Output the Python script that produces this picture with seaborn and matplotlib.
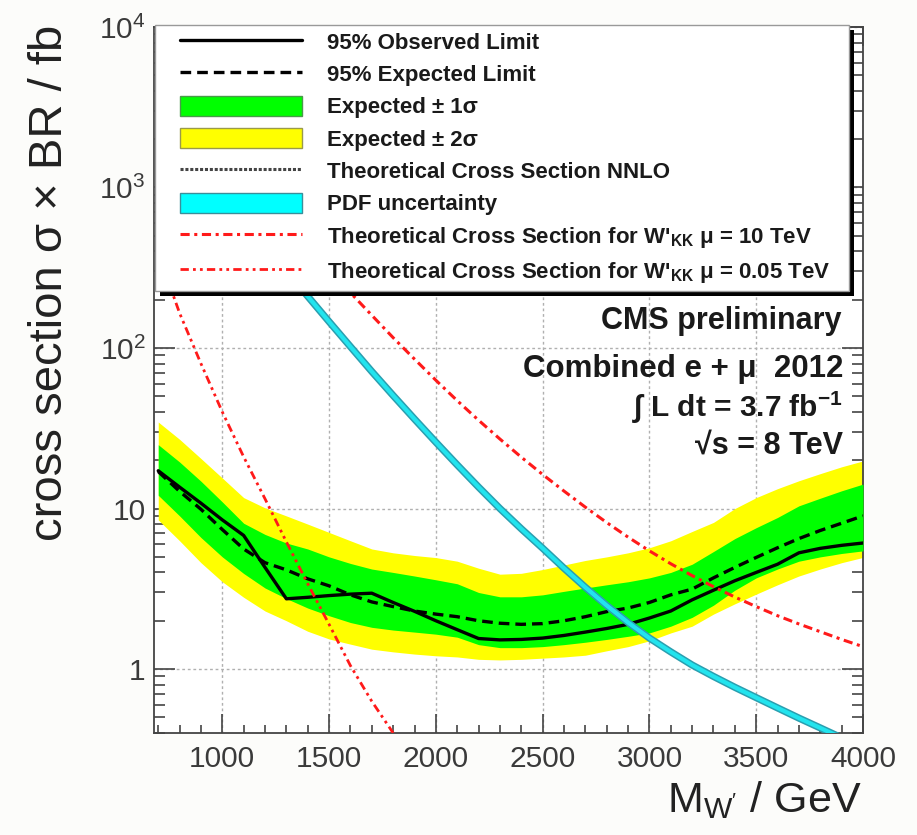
import matplotlib
matplotlib.use("Agg")
import matplotlib.pyplot as plt
import matplotlib.patheffects as pe
import seaborn as sns
from matplotlib.lines import Line2D
from matplotlib.patches import Patch, Rectangle
from matplotlib.ticker import MultipleLocator, LogLocator, NullFormatter

# W' mass points (GeV) for the limits
MASS = [700, 800, 900, 1000, 1100, 1200, 1300, 1400, 1500, 1600, 1700, 1800,
        1900, 2000, 2100, 2200, 2300, 2400, 2500, 2600, 2700, 2800, 2900, 3000,
        3100, 3200, 3300, 3400, 3500, 3600, 3700, 3800, 3900, 4000]

OBSERVED = [17.2, 13.6, 10.8, 8.5, 6.8, 4.3, 2.74, 2.8, 2.87, 2.93, 2.97, 2.6,
            2.29, 2.0, 1.76, 1.55, 1.52, 1.53, 1.56, 1.62, 1.70, 1.79, 1.90, 2.08,
            2.3, 2.7, 3.1, 3.55, 4.0, 4.5, 5.3, 5.65, 5.9, 6.1]
EXPECTED = [17.0, 12.8, 9.9, 7.4, 5.6, 4.6, 4.15, 3.65, 3.3, 2.9, 2.62, 2.45,
            2.3, 2.2, 2.12, 2.0, 1.93, 1.9, 1.92, 2.0, 2.12, 2.28, 2.4, 2.6,
            2.9, 3.15, 3.7, 4.3, 4.96, 5.7, 6.5, 7.3, 8.1, 9.0]
EXP_1S_UP = [25, 19.5, 14.8, 11, 8.1, 6.9, 6.1, 5.6, 5.0, 4.55, 4.2, 4.0,
             3.8, 3.6, 3.4, 3.0, 2.82, 2.82, 2.9, 3.05, 3.2, 3.35, 3.5, 3.7,
             4.0, 4.5, 5.4, 6.5, 7.6, 8.8, 10.4, 11.6, 12.9, 14.2]
EXP_1S_DN = [12.1, 9.0, 6.6, 5.0, 3.94, 3.2, 2.75, 2.4, 2.15, 1.95, 1.82, 1.75,
             1.7, 1.65, 1.58, 1.42, 1.36, 1.36, 1.38, 1.42, 1.47, 1.53, 1.6, 1.68,
             1.85, 2.1, 2.5, 3.1, 3.7, 4.2, 4.7, 5.0, 5.25, 5.45]
EXP_2S_UP = [34.6, 27, 20.5, 15.5, 11.7, 10.1, 9.0, 8.0, 7.1, 6.3, 5.6, 5.3,
             5.1, 4.95, 4.7, 4.25, 3.9, 3.95, 4.17, 4.45, 4.75, 5.0, 5.3, 5.7,
             6.3, 7.2, 8.2, 10.0, 11.7, 13.3, 14.9, 16.5, 18.2, 19.8]
EXP_2S_DN = [8.5, 6.3, 4.6, 3.5, 2.8, 2.3, 2.0, 1.72, 1.54, 1.43, 1.33, 1.28,
             1.24, 1.21, 1.19, 1.15, 1.14, 1.15, 1.17, 1.19, 1.22, 1.3, 1.38, 1.5,
             1.68, 1.85, 2.2, 2.55, 2.93, 3.35, 3.8, 4.2, 4.6, 4.96]

# theory curves
MASS_NNLO = [1200, 1300, 1400, 1500, 1600, 1700, 1800, 1900, 2000, 2100, 2200,
             2300, 2400, 2500, 2600, 2700, 2800, 2900, 3000, 3100, 3200, 3300,
             3400, 3500, 3600, 3700, 3800, 3900, 4000]
XSEC_NNLO = [446, 305, 210, 146, 102, 71.4, 50.6, 36.1, 25.9, 18.7, 13.6,
             10.0, 7.48, 5.66, 4.25, 3.23, 2.49, 1.95, 1.56, 1.28, 1.06, 0.90,
             0.77, 0.664, 0.573, 0.495, 0.43, 0.373, 0.324]
MASS_KK10 = [1500, 1600, 1700, 1800, 1900, 2000, 2100, 2200, 2300, 2400, 2500,
             2600, 2700, 2800, 2900, 3000, 3100, 3200, 3300, 3400, 3500, 3600,
             3700, 3800, 3900, 4000]
XSEC_KK10 = [306, 221, 160, 116, 85.3, 63.0, 47.0, 35.5, 27.1, 20.9, 16.3,
             12.85, 10.2, 8.18, 6.64, 5.45, 4.53, 3.82, 3.26, 2.81, 2.45, 2.15,
             1.91, 1.71, 1.53, 1.38]
MASS_KK005 = [700, 800, 900, 1000, 1100, 1200, 1300, 1400, 1500, 1600, 1700, 1800]
XSEC_KK005 = [390, 165, 80, 40, 21, 11.5, 6.2, 3.4, 1.9, 1.05, 0.63, 0.40]

Y_TICKS = [1, 10, 100, 1000, 10000]
Y_TICKLABELS = ["1", "10", r"$\mathregular{10^{2}}$", r"$\mathregular{10^{3}}$", r"$\mathregular{10^{4}}$"]

sns.set_theme(style="ticks")
plt.rcParams["font.family"] = ["Liberation Sans", "DejaVu Sans"]
plt.rcParams["mathtext.fontset"] = "custom"
plt.rcParams["mathtext.rm"] = "Liberation Sans"
plt.rcParams["mathtext.it"] = "Liberation Sans:italic"
plt.rcParams["mathtext.bf"] = "Liberation Sans:bold"

fig = plt.figure(figsize=(9.17, 8.35), dpi=100, facecolor="#fcfcfa")
ax = fig.add_axes([0.1679, 0.1222, 0.7732, 0.8455])
ax.set_facecolor("white")
ax.set_yscale("log")
ax.set_xlim(680, 4000)
ax.set_ylim(0.4, 1e4)

# bands
ax.fill_between(MASS, EXP_2S_DN, EXP_2S_UP, color="#ffff00", lw=0, zorder=2)
ax.fill_between(MASS, EXP_1S_DN, EXP_1S_UP, color="#00ff00", lw=0, zorder=3)

obs_style = dict(color="black", lw=2.4)
exp_style = dict(color="black", lw=2.4, linestyle=(0, (3.2, 1.8)))
kk10_style = dict(color="#ff1a1a", lw=2.2, linestyle=(0, (3, 1.5, 1, 1.5)))
kk005_style = dict(color="#ff1a1a", lw=2.0, linestyle=(0, (3, 1.5, 1, 1.5, 1, 1.5)))

sns.lineplot(x=MASS, y=EXPECTED, ax=ax, zorder=5, **exp_style)
sns.lineplot(x=MASS, y=OBSERVED, ax=ax, zorder=5, **obs_style)
sns.lineplot(x=MASS_KK10, y=XSEC_KK10, ax=ax, zorder=6, **kk10_style)
sns.lineplot(x=MASS_KK005, y=XSEC_KK005, ax=ax, zorder=6, **kk005_style)
# NNLO curve with the narrow PDF band drawn around it
sns.lineplot(x=MASS_NNLO, y=XSEC_NNLO, ax=ax, zorder=6, color="#22e4ee", lw=3.0,
             path_effects=[pe.Stroke(linewidth=5.2, foreground="#2a9fb0"), pe.Normal()])

# axes cosmetics (ROOT-like)
ax.set_yticks(Y_TICKS, labels=Y_TICKLABELS)
ax.yaxis.set_minor_locator(LogLocator(base=10, subs=range(2, 10)))
ax.yaxis.set_minor_formatter(NullFormatter())
ax.xaxis.set_major_locator(MultipleLocator(500))
ax.xaxis.set_minor_locator(MultipleLocator(100))
ax.tick_params(which="both", direction="in", top=True, right=True, color="#444", width=1.2)
ax.tick_params(axis="y", which="major", length=15)
ax.tick_params(axis="y", which="minor", length=8)
ax.tick_params(axis="x", which="major", length=14)
ax.tick_params(axis="x", which="minor", length=6)
ax.tick_params(axis="both", labelsize=21.5, labelcolor="#3a3a3a")
ax.tick_params(axis="x", pad=9)
ax.tick_params(axis="y", pad=6)
ax.grid(True, which="major", color="#b0b0b0", ls=(0, (2, 2)), lw=1)
ax.set_axisbelow(True)
for s in ax.spines.values():
    s.set_color("#444")
    s.set_linewidth(1.3)

fig.text(50 / 917, 1 - 283 / 835, "cross section σ × BR / fb", rotation=90,
         ha="center", va="center", fontsize=34, color="#222")
fig.text(862 / 917, 1 - 800 / 835, r"M$_{\mathregular{W'}}$ / GeV",
         ha="right", va="center", fontsize=31, color="#222")

# legend box with ROOT style shadow
fig.add_artist(Rectangle((160 / 917, 1 - 296 / 835), 694 / 917, 266 / 835,
                         transform=fig.transFigure, facecolor="black", lw=0, zorder=3))
fig.add_artist(Rectangle((155 / 917, 1 - 291 / 835), 694 / 917, 266 / 835,
                         transform=fig.transFigure, facecolor="white",
                         edgecolor="#999999", lw=1, zorder=4))

handles = [
    Line2D([], [], **obs_style),
    Line2D([], [], **exp_style),
    Patch(facecolor="#00ff00", edgecolor="#4a9a4a", lw=1),
    Patch(facecolor="#ffff00", edgecolor="#9a9a4a", lw=1),
    Line2D([], [], color="#444", lw=2.2, linestyle=(0, (1, 0.6))),
    Patch(facecolor="#00ffff", edgecolor="#3a8f9a", lw=1),
    Line2D([], [], **kk10_style),
    Line2D([], [], **kk005_style),
]
labels = [
    "95% Observed Limit",
    "95% Expected Limit",
    "Expected ± 1σ",
    "Expected ± 2σ",
    "Theoretical Cross Section NNLO",
    "PDF uncertainty",
    r"Theoretical Cross Section for W'$_{\mathregular{KK}}$ μ = 10 TeV",
    r"Theoretical Cross Section for W'$_{\mathregular{KK}}$ μ = 0.05 TeV",
]
leg = fig.legend(handles, labels, loc="upper left", bbox_to_anchor=(180 / 917, 1 - 31 / 835),
                 frameon=False, prop={"size": 16, "weight": "bold"},
                 handlelength=5.5, handleheight=1.0, handletextpad=1.1,
                 labelspacing=0.44, borderpad=0, borderaxespad=0)
leg.set_zorder(5)
for t in leg.get_texts():
    t.set_color("#1a1a1a")

# CMS labels
txt = dict(transform=ax.transAxes, ha="right", va="center", weight="bold",
           color="#1a1a1a", zorder=8)
ax.text(0.970, 0.583, "CMS preliminary", fontsize=22, **txt)
ax.text(0.972, 0.516, "Combined e + μ  2012", fontsize=22.5, **txt)
ax.text(0.972, 0.461, r"∫ L dt = 3.7 fb$^{\mathbf{-1}}$", fontsize=21.5, **txt)
ax.text(0.972, 0.407, "√s = 8 TeV", fontsize=22, **txt)

fig.savefig("out.png", dpi=100, facecolor=fig.get_facecolor())
